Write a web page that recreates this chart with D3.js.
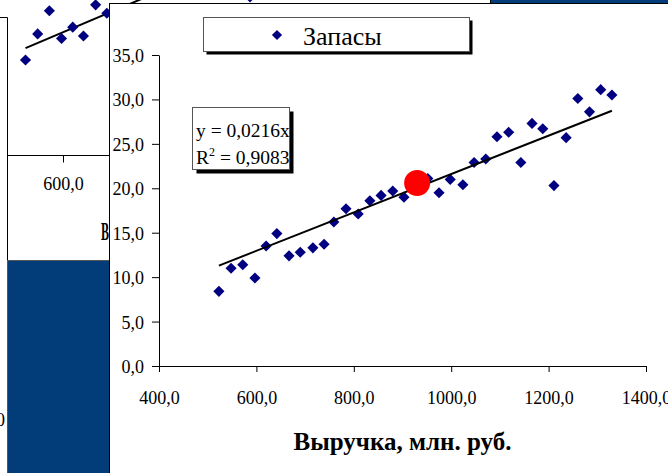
<!DOCTYPE html>
<html><head><meta charset="utf-8">
<script src="https://cdn.jsdelivr.net/npm/d3@7"></script>
<style>
html,body{margin:0;padding:0;background:#fff;overflow:hidden;}
svg{display:block;}
text{font-family:"Liberation Serif","Times New Roman",serif;}
</style></head>
<body>
<svg id="c" width="668" height="473"></svg>
<script>
// ---- data (main chart: Выручка vs Запасы) ----
const revenue = [523,548,572,597,620,642,667,690,716,739,759,784,809,833,856,880,903,952,975,998,1024,1047,1071,1094,1118,1143,1166,1188,1211,1236,1260,1284,1307,1330];
const stocks  = [8.4,11.0,11.4,9.9,13.5,14.9,12.4,12.8,13.3,13.7,16.2,17.7,17.1,18.6,19.2,19.7,19.0,21.1,19.5,21.0,20.4,22.9,23.3,25.8,26.3,22.9,27.3,26.7,20.3,25.7,30.1,28.6,31.1,30.5];
const highlightRevenue = [930];
const highlightStocks  = [20.6];
const trendSlope = 0.0216;
const trendLabel = "y = 0,0216x";
const r2Label = "0,9083";
const seriesName = "Запасы";
const xTicks = [400,600,800,1000,1200,1400];
const yTicks = [0,5,10,15,20,25,30,35];
const xTitle = "Выручка, млн. руб.";
// ---- data of the chart partly visible behind ----
const bgRevenue = [523,548,572,597,620,642,667,690,984];
const bgValues  = [22.8,29.0,34.5,27.9,30.6,28.5,35.9,33.9,37.8];
const bgSlope = 0.049;
const bgTicks = [600];
const bgTitleVisible = "В";

const fmt = d => d3.format(".1f")(d).replace(".", ",");
const svg = d3.select("#c");
const FONT = '"Liberation Serif","Times New Roman",serif';

// ===== background chart (behind) =====
const bg = svg.append("g");
const bx = d3.scaleLinear().domain([400,1400]).range([-34.4, 452.6]);
const by = d3.scaleLinear().domain([0,40]).range([156,-12.4]);
// frame lines
bg.append("line").attr("x1",0).attr("x2",7.5).attr("y1",17.5).attr("y2",17.5).attr("stroke","#000");
bg.append("line").attr("x1",7.5).attr("x2",7.5).attr("y1",17.5).attr("y2",473).attr("stroke","#000");
// bg axis
const bgAxis = d3.axisBottom(bx).tickValues(bgTicks).tickFormat(fmt).tickSize(7).tickSizeOuter(0).tickPadding(15);
const bga = bg.append("g").attr("transform","translate(0,155.5)").call(bgAxis);
bga.select(".domain").attr("d","M7.5,0H110");
bga.selectAll("text").attr("font-family",FONT).attr("font-size",18).attr("fill","#000");
bg.append("text").attr("x",101).attr("y",240).attr("font-size",26).attr("font-weight","bold")
  .attr("textLength",8).attr("lengthAdjust","spacingAndGlyphs").text(bgTitleVisible);
// bg trend + points
bg.append("line").attr("x1",bx(revenue[0])).attr("y1",by(bgSlope*revenue[0]))
  .attr("x2",bx(d3.max(revenue))).attr("y2",by(bgSlope*d3.max(revenue)))
  .attr("stroke","#000").attr("stroke-width",2);
const diamond = d3.symbol(d3.symbolSquare, 62);
bg.selectAll("path.bgp").data(bgRevenue.map((r,i)=>[r,bgValues[i]])).join("path").attr("class","bgp")
  .attr("d",diamond).attr("fill","#000080")
  .attr("transform",d=>`translate(${bx(d[0])},${by(d[1])}) rotate(45)`);
// blue blocks of other elements
bg.append("rect").attr("x",7.5).attr("y",260.5).attr("width",102).attr("height",220)
  .attr("fill","#023d7a").attr("stroke","#555");
bg.append("rect").attr("x",490.5).attr("y",-5).attr("width",190).attr("height",8.5)
  .attr("fill","#023d7a").attr("stroke","#000");
bg.append("text").attr("x",5).attr("y",426).attr("text-anchor","end").attr("font-size",18).text("0");

// ===== main chart =====
svg.append("rect").attr("x",109.5).attr("y",3.5).attr("width",600).attr("height",500)
  .attr("fill","#fff").attr("stroke","#000");

const x = d3.scaleLinear().domain([400,1400]).range([159,646]);
const y = d3.scaleLinear().domain([0,35]).range([366,55]);

const ya = svg.append("g").attr("transform","translate(159,0)")
  .call(d3.axisLeft(y).tickValues(yTicks).tickFormat(fmt).tickSize(7).tickSizeOuter(0).tickPadding(8));
const xa = svg.append("g").attr("transform","translate(0,366)")
  .call(d3.axisBottom(x).tickValues(xTicks).tickFormat(fmt).tickSize(6).tickSizeOuter(0).tickPadding(19));
[ya,xa].forEach(a=>{
  a.selectAll("text").attr("font-family",FONT).attr("font-size",18).attr("fill","#000");
  a.selectAll("line,path").attr("stroke","#000");
});
ya.selectAll("text").attr("dy","0.36em");

svg.append("text").attr("x",(x.range()[0]+x.range()[1])/2).attr("y",450)
  .attr("text-anchor","middle").attr("font-size",25).attr("font-weight","bold").text(xTitle);

// points
svg.selectAll("path.pt").data(revenue.map((r,i)=>[r,stocks[i]])).join("path").attr("class","pt")
  .attr("d",diamond).attr("fill","#000080")
  .attr("transform",d=>`translate(${x(d[0])},${y(d[1])}) rotate(45)`);
// trendline
const x0 = d3.min(revenue), x1 = d3.max(revenue);
svg.append("line").attr("x1",x(x0)).attr("y1",y(trendSlope*x0)).attr("x2",x(x1)).attr("y2",y(trendSlope*x1))
  .attr("stroke","#000").attr("stroke-width",2);
// highlighted point
svg.selectAll("circle.hl").data(highlightRevenue.map((r,i)=>[r,highlightStocks[i]])).join("circle")
  .attr("class","hl").attr("cx",d=>x(d[0])).attr("cy",d=>y(d[1])).attr("r",13).attr("fill","#ff0000");

// legend
const lg = svg.append("g");
lg.append("rect").attr("x",206.5).attr("y",20.5).attr("width",266).attr("height",34).attr("fill","#000");
lg.append("rect").attr("x",203.5).attr("y",17.5).attr("width",266).attr("height",34).attr("fill","#fff").attr("stroke","#555");
lg.append("path").attr("d",d3.symbol(d3.symbolSquare,52)).attr("fill","#000080").attr("transform","translate(277,35) rotate(45)");
lg.append("text").attr("x",303).attr("y",45).attr("font-size",26).text(seriesName);

// equation box
const eq = svg.append("g");
eq.append("rect").attr("x",196.5).attr("y",111.5).attr("width",97).attr("height",62).attr("fill","#000");
eq.append("rect").attr("x",192.5).attr("y",107.5).attr("width",97).attr("height",62).attr("fill","#fff").attr("stroke","#555");
eq.append("text").attr("x",196).attr("y",137).attr("font-size",19.5).text(trendLabel);
const t2 = eq.append("text").attr("x",196).attr("y",164).attr("font-size",19.5);
t2.append("tspan").text("R");
t2.append("tspan").attr("font-size",12).attr("dy",-8).text("2");
t2.append("tspan").attr("dy",8).text(" = " + r2Label);
</script>
</body></html>
